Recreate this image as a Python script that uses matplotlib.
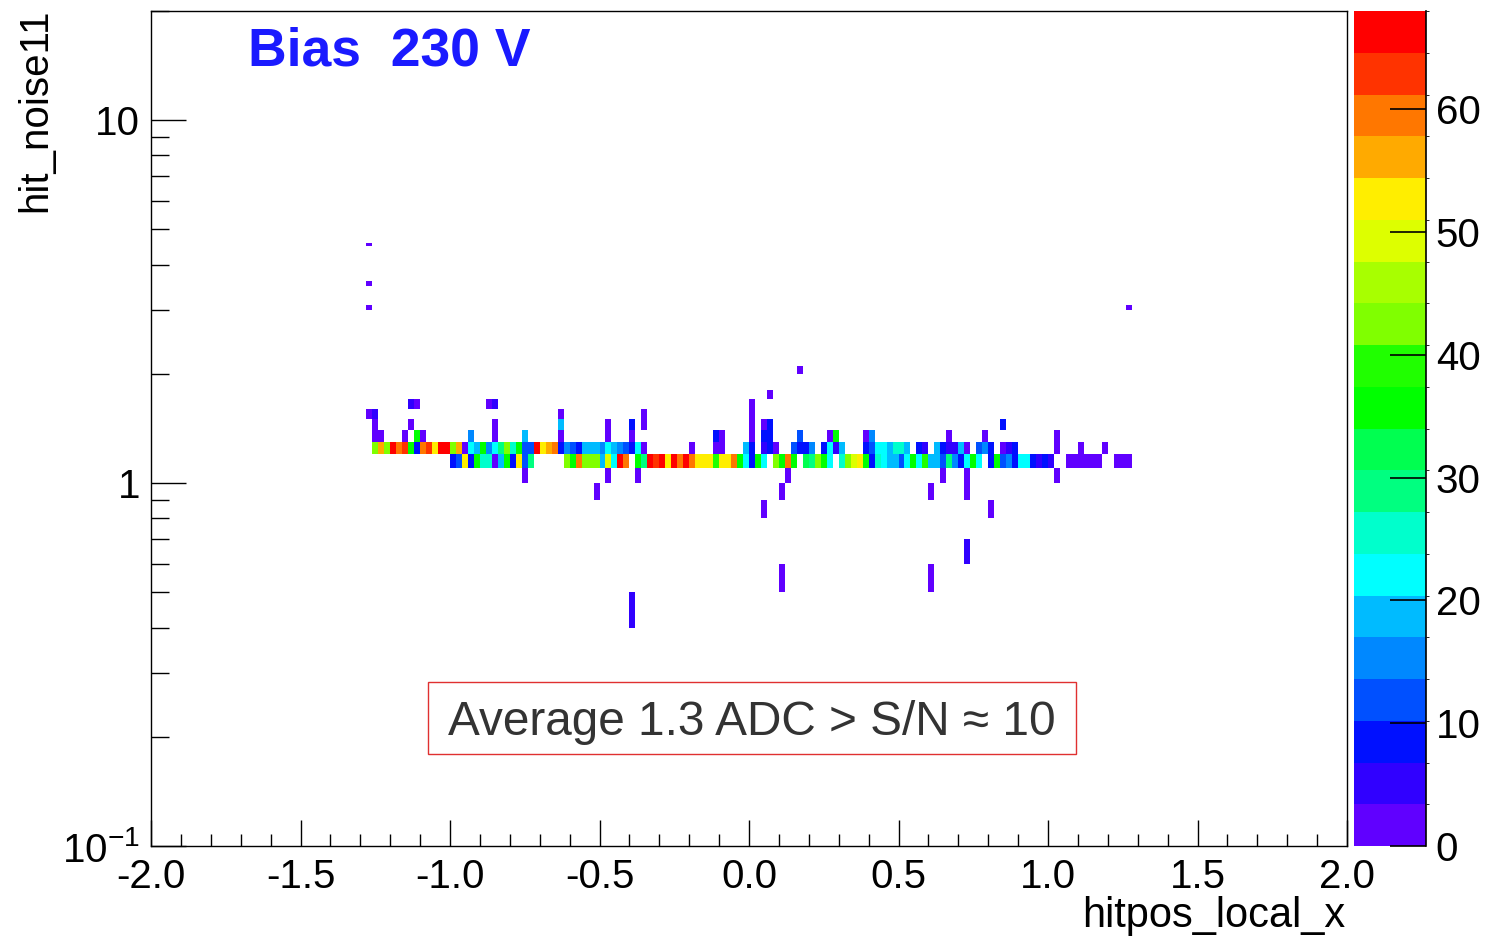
import numpy as np
import matplotlib
matplotlib.use('Agg')
import matplotlib.pyplot as plt
from matplotlib.colors import ListedColormap, BoundaryNorm
from matplotlib.ticker import (FixedLocator, FixedFormatter, MultipleLocator,
                               LogLocator, NullFormatter, FormatStrFormatter)
from matplotlib.patches import Rectangle

plt.rcParams['font.family'] = ['Liberation Sans', 'DejaVu Sans']
plt.rcParams['axes.unicode_minus'] = False

# --- data ----------------------------------------------------------------
# bins are 0.02 wide in x and 0.1 wide in y

# band 1.2 < hit_noise11 < 1.3, one count per x bin, first bin centre at -1.25
band_hi_x0 = -1.25
band_hi = [42, 57, 44, 66, 60, 63, 37, 10, 58, 63,
           51, 67, 66, 42, 57, 3, 22, 19, 36, 16,
           22, 29, 42, 27, 36, 11, 12, 66, 52, 57,
           58, 9, 15, 11, 8, 17, 19, 18, 16, 22,
           18, 16, 11, 9, 22, 2, 0, 0, 0, 0,
           0, 0, 0, 2, 0, 0, 0, 3, 2, 0,
           0, 0, 18, 9, 0, 4, 8, 3, 0, 0,
           11, 10, 8, 15, 0, 10, 21, 4, 17, 0,
           0, 0, 9, 11, 22, 21, 18, 25, 26, 18,
           0, 10, 5, 0, 17, 10, 5, 4, 17, 3,
           0, 11, 16, 10, 0, 3, 5, 10, 0, 0,
           0, 0, 0, 0, 2, 0, 0, 0, 2, 0,
           0, 0, 2]

# band 1.1 < hit_noise11 < 1.2, first bin centre at -0.99
band_lo_x0 = -0.99
band_lo = [10, 11, 52, 10, 36, 26, 26, 3, 19, 34,
           10, 51, 12, 30, 0, 0, 0, 0, 0, 42,
           37, 58, 43, 42, 41, 18, 50, 22, 66, 60,
           0, 36, 28, 66, 63, 66, 52, 66, 60, 65,
           58, 52, 51, 53, 38, 52, 51, 58, 36, 22,
           10, 34, 22, 0, 43, 37, 59, 35, 0, 33,
           29, 41, 37, 22, 0, 27, 44, 50, 51, 35,
           10, 27, 21, 18, 19, 13, 22, 35, 22, 38,
           17, 20, 11, 28, 16, 8, 22, 36, 23, 0,
           10, 34, 12, 16, 10, 22, 21, 9, 4, 7,
           4, 0, 0, 2, 2, 2, 2, 2, 2, 0,
           0, 2, 2, 2]

# isolated cells outside the two main bands (bin centres and counts)
extra_x = [-1.27, -1.27, -1.27, -1.27, -1.25, -1.25, -1.25, -1.23, -1.15,
           -1.13, -1.13, -1.11, -1.11, -1.09, -0.93, -0.87, -0.85, -0.85,
           -0.85, -0.75, -0.75, -0.63, -0.63, -0.63, -0.51, -0.47, -0.47,
           -0.47, -0.39, -0.39, -0.39, -0.37, -0.35, -0.35, -0.11, -0.09,
           0.01, 0.01, 0.01, 0.01, 0.05, 0.05, 0.05, 0.07, 0.07, 0.07,
           0.11, 0.11, 0.13, 0.17, 0.17, 0.27, 0.29, 0.39, 0.41, 0.61,
           0.61, 0.65, 0.67, 0.73, 0.73, 0.73, 0.79, 0.81, 0.85, 1.03,
           1.03, 1.27]
extra_y = [1.55, 4.55, 3.55, 3.05, 1.55, 1.45, 1.35, 1.35, 1.35,
           1.65, 1.45, 1.65, 1.35, 1.35, 1.35, 1.65, 1.65, 1.45,
           1.35, 1.35, 1.05, 1.55, 1.45, 1.35, 0.95, 1.45, 1.35,
           1.05, 1.45, 1.35, 0.45, 1.05, 1.55, 1.45, 1.35, 1.35,
           1.35, 1.45, 1.55, 1.65, 1.45, 1.35, 0.85, 1.75, 1.45, 1.35,
           0.95, 0.55, 1.05, 2.05, 1.35, 1.35, 1.35, 1.35, 1.35, 0.95,
           0.55, 1.05, 1.35, 1.05, 0.95, 0.65, 1.35, 0.85, 1.45, 1.35,
           1.05, 3.05]
extra_n = [2, 1, 1, 1, 6, 2, 2, 2, 2,
           5, 2, 3, 36, 2, 15, 2, 6, 2,
           2, 17, 2, 2, 18, 2, 2, 2, 2,
           2, 8, 3, 6, 2, 2, 2, 8, 3,
           2, 2, 2, 2, 2, 9, 2, 2, 7, 9,
           2, 2, 2, 2, 11, 3, 36, 3, 16, 2,
           2, 2, 2, 2, 2, 6, 2, 2, 7, 2,
           2, 1]

z_max = 68
palette = ['#6000ff', '#3000ff', '#0010ff', '#0050ff', '#0088ff',
           '#00bbff', '#00ffff', '#00ffcc', '#00ff80', '#00ff50',
           '#00ff00', '#20ff00', '#80ff00', '#a8ff00', '#ddff00',
           '#ffee00', '#ffaa00', '#ff7700', '#ff3300', '#ff0000']

# --- collect all cells --------------------------------------------------
hi_x = band_hi_x0 + 0.02 * np.arange(len(band_hi))
lo_x = band_lo_x0 + 0.02 * np.arange(len(band_lo))
xs = np.concatenate([hi_x, lo_x, extra_x])
ys = np.concatenate([np.full(len(band_hi), 1.25), np.full(len(band_lo), 1.15), extra_y])
ws = np.concatenate([band_hi, band_lo, extra_n]).astype(float)

x_edges = np.linspace(-2, 2, 201)
y_edges = np.linspace(0.1, 20, 200)

cmap = ListedColormap(palette)
norm = BoundaryNorm(np.linspace(0, z_max, len(palette) + 1), cmap.N)

fig = plt.figure(figsize=(14.9, 9.4), dpi=100)
ax = fig.add_axes([151/1490, 94/940, 1196/1490, 835/940])
cax = fig.add_axes([1354/1490, 94/940, 72/1490, 835/940])

h = ax.hist2d(xs, ys, bins=[x_edges, y_edges], weights=ws, cmin=0.5,
              cmap=cmap, norm=norm)

ax.set_yscale('log')
ax.set_xlim(-2, 2)
ax.set_ylim(0.1, 20)

# axes ticks, ROOT style (inside, left and bottom only)
ax.xaxis.set_major_locator(MultipleLocator(0.5))
ax.xaxis.set_minor_locator(MultipleLocator(0.1))
ax.xaxis.set_major_formatter(FormatStrFormatter('%.1f'))
ax.yaxis.set_major_locator(FixedLocator([0.1, 1, 10]))
ax.yaxis.set_major_formatter(FixedFormatter([r'$\mathregular{10^{-1}}$', '1', '10']))
ax.yaxis.set_minor_locator(LogLocator(base=10, subs=np.arange(2, 10)))
ax.yaxis.set_minor_formatter(NullFormatter())

ax.tick_params(axis='x', which='major', direction='in', length=19, width=1, labelsize=29, pad=9)
ax.tick_params(axis='x', which='minor', direction='in', length=9, width=1)
ax.tick_params(axis='y', which='major', direction='in', length=25, width=1, labelsize=29, pad=8)
ax.tick_params(axis='y', which='minor', direction='in', length=13, width=1)
for s in ax.spines.values():
    s.set_linewidth(1.0)

# lift the 10^-1 label a little so it clears the -2.0 label
ax.yaxis.get_major_ticks()[0].label1.set_va('center_baseline')

# colour scale
cb = fig.colorbar(h[3], cax=cax, ticks=np.arange(0, 61, 10), spacing='proportional')
cb.outline.set_visible(False)
cax.plot([1, 1], [0, 1], transform=cax.transAxes, color='black', lw=1.2, clip_on=False)
cax.tick_params(axis='y', direction='in', length=26, width=1.2, labelsize=29, pad=7)

# labels
fig.text(35/1490, 1 - 8/940, 'hit_noise11', rotation=90, ha='center', va='top', fontsize=29)
fig.text(1345/1490, 1 - 916/940, 'hitpos_local_x', ha='right', va='center', fontsize=30)
fig.text(248/1490, 1 - 65/940, 'Bias  230 V', ha='left', va='baseline',
         fontsize=38.5, fontweight='bold', color='#1a1aff')

# annotation box
fig.add_artist(Rectangle((428/1490, 1 - 754/940), 648/1490, 72/940,
                         transform=fig.transFigure, facecolor='white',
                         edgecolor='#e03030', lw=1))
fig.text(448/1490, 1 - 735/940, 'Average 1.3 ADC > S/N \u2248 10',
         ha='left', va='baseline', fontsize=34.4, color='#333333')

fig.savefig('out.png', dpi=100)
